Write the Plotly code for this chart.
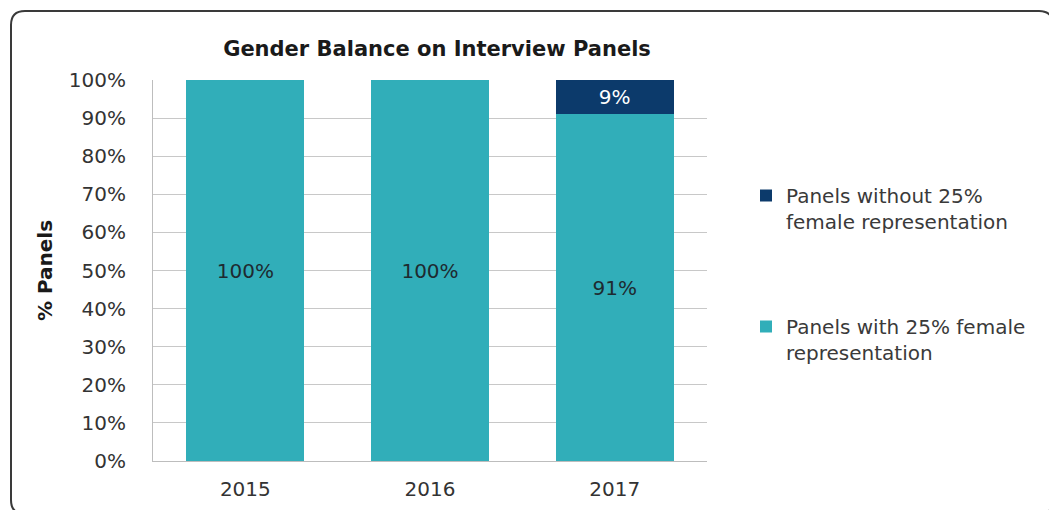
import plotly.graph_objects as go

years = ["2015", "2016", "2017"]
with_25 = [100, 100, 91]
without_25 = [0, 0, 9]
with_labels = ["100%", "100%", "91%"]
without_labels = ["", "", "9%"]
y_ticks = [0, 10, 20, 30, 40, 50, 60, 70, 80, 90, 100]
y_tick_labels = [f"{v}%" for v in y_ticks]

W, H = 1049, 510
L, R, T, B = 153, 707, 80, 461
FONT = "DejaVu Sans"
TEAL = "#31aeb9"
NAVY = "#0c3a6b"
FS = 20

def px(x):
    return (x - L) / (R - L)

def py(y):
    return (B - y) / (B - T)

fig = go.Figure()
fig.add_trace(go.Bar(
    x=years, y=with_25, name="Panels with 25% female<br>representation",
    marker=dict(color=TEAL, line=dict(width=0)),
    text=with_labels, textposition="inside", insidetextanchor="middle",
    textfont=dict(family=FONT, size=FS, color="#1e2a30"),
    legendgroup="a", legendrank=2, hoverinfo="skip",
))
fig.add_trace(go.Bar(
    x=years, y=without_25, name="Panels without 25%<br>female representation",
    marker=dict(color=NAVY, line=dict(width=0)),
    text=without_labels, textposition="inside", insidetextanchor="middle",
    textfont=dict(family=FONT, size=FS, color="#ffffff"),
    legendgroup="b", legendrank=1, hoverinfo="skip",
))

# rounded frame (right and bottom edges fall just outside the image border)
x0, y0, x1, y1, r = px(11), py(11), px(1053), py(514), 14
rx, ry = r / (R - L), r / (B - T)
path = (f"M {x0+rx},{y0} L {x1-rx},{y0} Q {x1},{y0} {x1},{y0-ry} "
        f"L {x1},{y1+ry} Q {x1},{y1} {x1-rx},{y1} "
        f"L {x0+rx},{y1} Q {x0},{y1} {x0},{y1+ry} "
        f"L {x0},{y0-ry} Q {x0},{y0} {x0+rx},{y0} Z")

fig.update_layout(
    width=W, height=H,
    margin=dict(l=L, r=W - R, t=T, b=H - B, autoexpand=False),
    barmode="stack", bargap=0.36,
    plot_bgcolor="white", paper_bgcolor="white",
    font=dict(family=FONT, size=FS, color="#333333"),
    title=dict(text="<b>Gender Balance on Interview Panels</b>",
               x=px(437), xanchor="center", xref="paper",
               y=1 - 49 / H, yanchor="middle",
               font=dict(family=FONT, size=21, color="#1a1a1a")),
    showlegend=True,
    legend=dict(x=px(746), y=py(176), xanchor="left", yanchor="top",
                traceorder="grouped", tracegroupgap=76,
                valign="top", font=dict(family=FONT, size=FS, color="#3a3a3a"),
                bgcolor="rgba(0,0,0,0)"),
    shapes=[dict(type="path", path=path, xref="paper", yref="paper",
                 line=dict(color="#3a3a3a", width=2), fillcolor="rgba(0,0,0,0)",
                 layer="below")],
)
fig.update_xaxes(
    showgrid=False, showline=True, linecolor="#bdbdbd", linewidth=1,
    ticks="", tickfont=dict(family=FONT, size=FS, color="#333333"),
    ticklabelstandoff=10,
)
fig.update_yaxes(
    range=[0, 100], tickvals=y_ticks, ticktext=y_tick_labels,
    showgrid=True, gridcolor="#c8c8c8", gridwidth=1,
    showline=True, linecolor="#bdbdbd", linewidth=1,
    ticks="outside", ticklen=22, tickcolor="rgba(0,0,0,0)",
    tickfont=dict(family=FONT, size=FS, color="#333333"),
    title=dict(text="<b>% Panels</b>", standoff=10,
               font=dict(family=FONT, size=FS, color="#1a1a1a")),
    zeroline=False,
)

fig.write_html("out.html")
